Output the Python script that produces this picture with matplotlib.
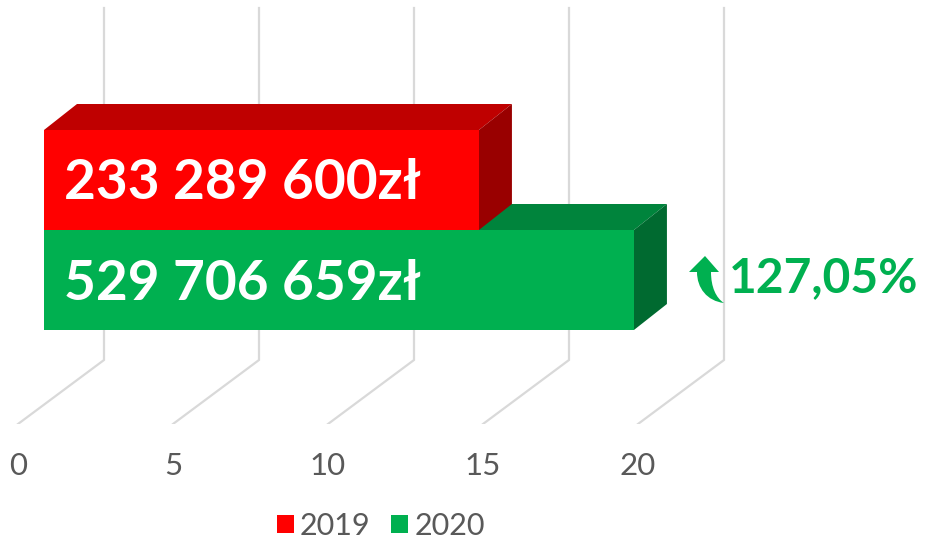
import matplotlib.pyplot as plt
from matplotlib.patches import Polygon, PathPatch, Patch
from matplotlib.path import Path

plt.rcParams['font.family'] = ['Lato', 'DejaVu Sans']

years = ["2019", "2020"]
values = [14.03, 19.03]
value_labels = ["233 289 600zł", "529 706 659zł"]
ticks = [0, 5, 10, 15, 20]
change_label = "127,05%"

W, H = 925, 542
# pixels of the picture for one x unit / one bar height
PX_X = 31.0
PX_Y = 100.0
FLOOR = 424  # y pixel of the axis floor
LEFT = 18    # x pixel of value 0

fig = plt.figure(figsize=(W / 100, H / 100), dpi=100)
ax = fig.add_axes([0, (H - FLOOR) / H, 1, FLOOR / H])
ax.set_xlim(-LEFT / PX_X, (W - LEFT) / PX_X)
ax.set_ylim(0, FLOOR / PX_Y)
for s in ax.spines.values():
    s.set_visible(False)
ax.set_yticks([])
ax.set_xticks(ticks)
ax.set_xticklabels([str(t) for t in ticks], fontsize=22.5, color="#595959")
ax.tick_params(axis="x", length=0, pad=20)


def px(x, y):
    # picture pixels to data coordinates, for the decorations
    return ((x - LEFT) / PX_X, (FLOOR - y) / PX_Y)


# depth of the 3d floor
dx_full, dy_full = 86 / PX_X, 64 / PX_Y
for t in ticks:
    ax.plot([t, t + dx_full, t + dx_full], [0, dy_full, (FLOOR - 8) / PX_Y],
            color="#D9D9D9", lw=1.6, solid_joinstyle="miter", zorder=1)

# bars sit a bit into the depth
x0 = 26 / PX_X
dx, dy = 33 / PX_X, 26 / PX_Y
base = [2.0 - 0.06, 1.0 - 0.06]
cols = [("#FF0000", "#BF0000", "#990000"), ("#00B050", "#00843C", "#006A30")]

# green first, the red side hides part of its top
for i in [1, 0]:
    v = values[i] + x0
    b = base[i]
    c = cols[i]
    z = 3 if i == 1 else 4
    ax.add_patch(Polygon([(x0, b + 1), (v, b + 1), (v + dx, b + 1 + dy), (x0 + dx, b + 1 + dy)],
                         fc=c[1], ec="none", zorder=z))
    ax.add_patch(Polygon([(v, b), (v + dx, b + dy), (v + dx, b + 1 + dy), (v, b + 1)],
                         fc=c[2], ec="none", zorder=z))
    ax.add_patch(Polygon([(x0, b), (v, b), (v, b + 1), (x0, b + 1)],
                         fc=c[0], ec="none", zorder=z))

for i, label in enumerate(value_labels):
    tx, ty = px(64, 199 + 100.5 * i)
    ax.text(tx, ty, label, color="white", fontsize=39.6, fontweight="bold",
            va="baseline", ha="left", zorder=6)

# arrow next to the change
verts = [px(705, 256), px(719, 272), px(711, 272),
         px(711, 287), px(716, 298), px(724, 303),
         px(707, 301), px(697, 288), px(697, 272),
         px(689, 272), px(705, 256)]
codes = [Path.MOVETO, Path.LINETO, Path.LINETO,
         Path.CURVE4, Path.CURVE4, Path.CURVE4,
         Path.CURVE4, Path.CURVE4, Path.CURVE4,
         Path.LINETO, Path.CLOSEPOLY]
ax.add_patch(PathPatch(Path(verts, codes), fc="#00B050", ec="none", zorder=5))
tx, ty = px(729, 292)
ax.text(tx, ty, change_label, color="#00B050", fontsize=34.5, fontweight="bold",
        va="baseline", ha="left", zorder=6)

handles = [Patch(fc=cols[i][0], ec="none", label=years[i]) for i in range(2)]
fig.legend(handles=handles, ncol=2, frameon=False, loc="lower center",
           bbox_to_anchor=(381 / W, -0.002), fontsize=22, labelcolor="#595959",
           handlelength=0.55, handleheight=0.55, handletextpad=0.2,
           columnspacing=0.68, borderpad=0.1, borderaxespad=0)

fig.savefig("out.png", dpi=100)
